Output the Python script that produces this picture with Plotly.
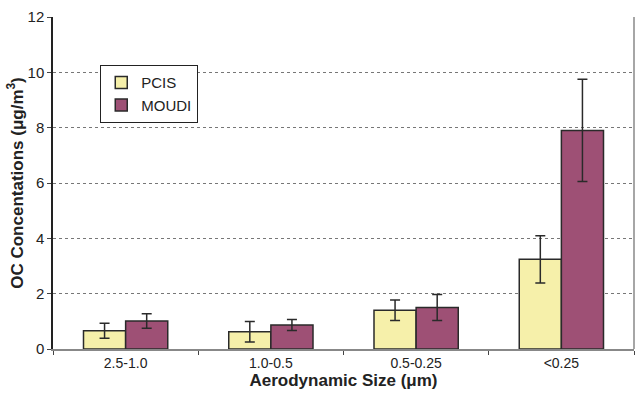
import plotly.graph_objects as go

categories = ["2.5-1.0", "1.0-0.5", "0.5-0.25", "<0.25"]
pcis = [0.66, 0.62, 1.40, 3.24]
pcis_err = [0.27, 0.37, 0.37, 0.85]
moudi = [1.01, 0.87, 1.50, 7.90]
moudi_err = [0.26, 0.20, 0.47, 1.85]
y_ticks = [0, 2, 4, 6, 8, 10, 12]

font_family = "Liberation Sans, Arial, sans-serif"

fig = go.Figure()
fig.add_trace(go.Bar(
    name="PCIS", x=categories, y=pcis,
    marker=dict(color="#F6F0AA", line=dict(color="#2a2a2a", width=1.5)),
    error_y=dict(type="data", array=pcis_err, color="#2a2a2a", thickness=1.5, width=5),
))
fig.add_trace(go.Bar(
    name="MOUDI", x=categories, y=moudi,
    marker=dict(color="#9E5075", line=dict(color="#2a2a2a", width=1.5)),
    error_y=dict(type="data", array=moudi_err, color="#2a2a2a", thickness=1.5, width=5),
))

fig.update_layout(
    width=635, height=394,
    margin=dict(l=53, r=1, t=17, b=45),
    paper_bgcolor="white", plot_bgcolor="white",
    barmode="group", bargap=0.42, bargroupgap=0,
    font=dict(family=font_family, size=14, color="#222"),
    legend=dict(
        x=0.081, y=0.855, xanchor="left", yanchor="top",
        bordercolor="#222", borderwidth=1.2, bgcolor="white",
        font=dict(size=15, family=font_family, color="#222"),
        tracegroupgap=0, itemwidth=30,
    ),
    xaxis=dict(
        showline=True, linecolor="#888", linewidth=1.5,
        ticks="outside", tickson="boundaries", ticklen=4, tickcolor="#444",
        tickfont=dict(size=14),
        title=dict(text="<b>Aerodynamic Size (μm)</b>", font=dict(size=17), standoff=4),
    ),
    yaxis=dict(
        range=[0, 12], tickvals=y_ticks,
        showline=True, linecolor="#222", linewidth=1.5,
        ticks="outside", ticklen=4, tickcolor="#444",
        showgrid=True, gridcolor="#777", griddash="3px,3px", gridwidth=1,
        tickfont=dict(size=15),
        zeroline=False,
        title=dict(text="<b>OC Concentations (μg/m<sup>3</sup>)</b>", font=dict(size=17), standoff=0),
    ),
)

fig.add_shape(type="line", xref="paper", yref="paper", x0=1, x1=1, y0=0, y1=1,
              line=dict(color="#888", width=1.5))

fig.write_html("out.html")
